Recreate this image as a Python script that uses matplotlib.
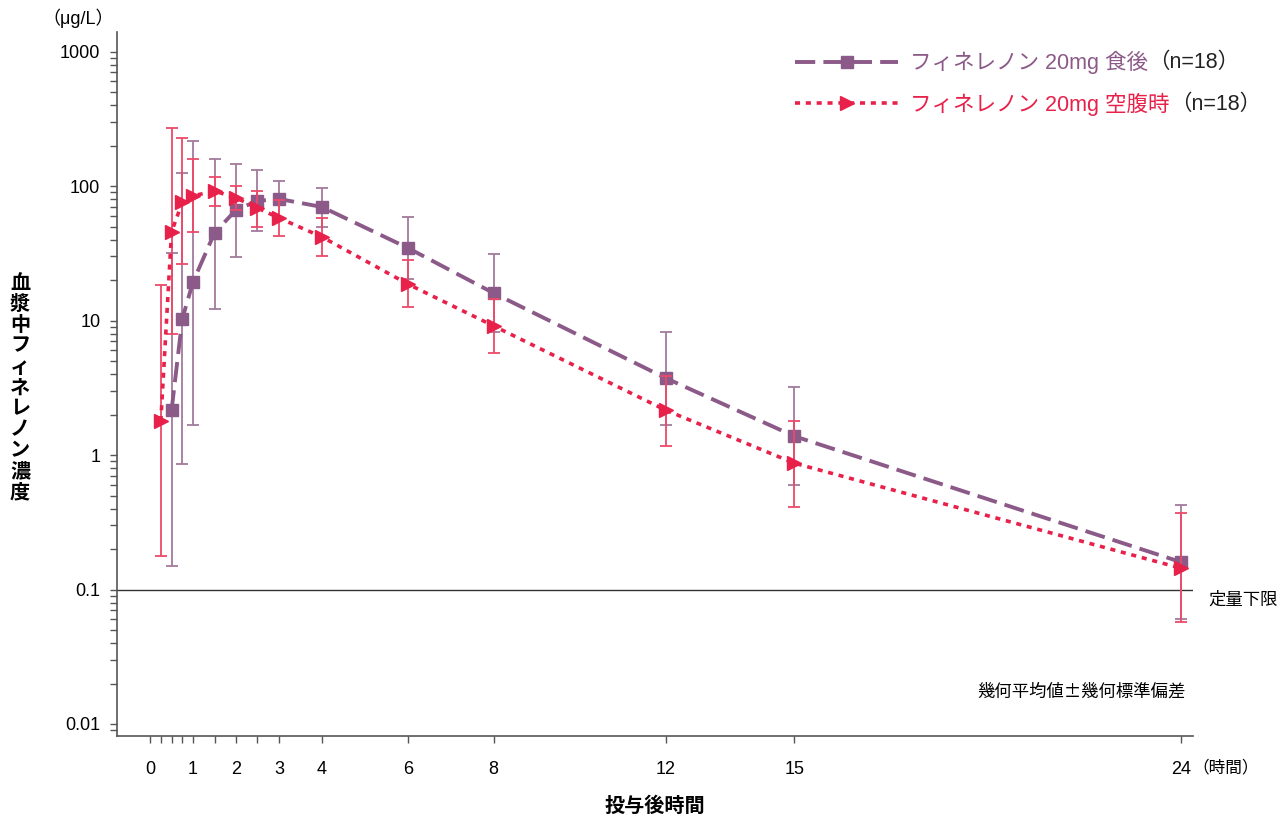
import matplotlib
matplotlib.use('Agg')
import matplotlib.pyplot as plt
import matplotlib.ticker as mticker
import numpy as np

plt.rcParams['font.family'] = ['Liberation Sans', 'Noto Sans CJK JP']

# 食後投与（幾何平均値と±幾何標準偏差の上下端）
t_fed = [0.5, 0.75, 1, 1.5, 2, 2.5, 3, 4, 6, 8, 12, 15, 24]
fed_mean = [2.15, 10.3, 19.4, 44.9, 66.5, 77.6, 80.3, 70.0, 34.7, 16.0, 3.74, 1.38, 0.160]
fed_upper = [31.8, 125, 215, 159, 146, 132, 110, 96, 59, 31.3, 8.2, 3.21, 0.425]
fed_lower = [0.149, 0.857, 1.67, 12.2, 29.7, 46.4, 58, 49.7, 20.4, 8.2, 1.67, 0.598, 0.060]

# 空腹時投与
t_fast = [0.25, 0.5, 0.75, 1, 1.5, 2, 2.5, 3, 4, 6, 8, 12, 15, 24]
fast_mean = [1.79, 45.6, 76.0, 84.6, 92.0, 81.7, 68.8, 58.0, 41.9, 18.7, 9.12, 2.16, 0.87, 0.144]
fast_upper = [18.4, 271, 228, 159, 117, 100, 92, 79, 58, 28.3, 14.5, 3.87, 1.79, 0.37]
fast_lower = [0.177, 7.9, 26.4, 45.6, 71.2, 66, 49.7, 42.6, 30.3, 12.6, 5.74, 1.17, 0.41, 0.057]

labels = ['フィネレノン 20mg 食後', 'フィネレノン 20mg 空腹時']
n_label = '（n=18）'

x_ticks = [0, 0.25, 0.5, 0.75, 1, 1.5, 2, 2.5, 3, 4, 6, 8, 12, 15, 24]
x_labels = ['0', '', '', '', '1', '', '2', '', '3', '4', '6', '8', '12', '15', '24']
lloq = 0.1

PURPLE = '#8c5a88'
RED = '#e8214b'
GREY = '#555555'
CJK = ['Noto Sans CJK JP', 'DejaVu Sans']

fig = plt.figure(figsize=(12.78, 8.16), dpi=100)
ax = fig.add_axes([117 / 1278, 80 / 816, (1193 - 117) / 1278, (736 - 32) / 816])
ax.set_yscale('log')
ax.set_xlim(-0.77, 24.28)
ax.set_ylim(0.00814, 1400)

def yerr(mean, lo, hi):
    mean, lo, hi = map(np.asarray, (mean, lo, hi))
    return [mean - lo, hi - mean]

fed = ax.errorbar(t_fed, fed_mean, yerr=yerr(fed_mean, fed_lower, fed_upper),
                  color=PURPLE, ecolor='#a27a9c', elinewidth=1.3, capsize=4.5, capthick=1.3,
                  lw=2.8, ls='--', dashes=(5.2, 2.1), dash_capstyle='butt',
                  marker='s', ms=9, zorder=3)
fast = ax.errorbar(t_fast, fast_mean, yerr=yerr(fast_mean, fast_lower, fast_upper),
                   color=RED, ecolor='#ec4a68', elinewidth=1.3, capsize=4.5, capthick=1.3,
                   lw=2.6, ls=':', dashes=(1.4, 1.6), dash_capstyle='butt',
                   marker='>', ms=10.5, zorder=4)

# 定量下限
ax.axhline(lloq, color='#333333', lw=1.0, zorder=1)
ax.annotate('定量下限', xy=(1, lloq), xycoords=('axes fraction', 'data'),
            xytext=(11, -7), textcoords='offset points', ha='left', va='center',
            fontsize=12.5, family=CJK)

ax.text(0.9935, 0.0625, '幾何平均値±幾何標準偏差', transform=ax.transAxes,
        ha='right', va='center', fontsize=12.5, family=CJK)

# 軸の体裁
for s in ['top', 'right']:
    ax.spines[s].set_visible(False)
for s in ['left', 'bottom']:
    ax.spines[s].set_color(GREY)
    ax.spines[s].set_linewidth(1.2)

ax.set_xticks(x_ticks)
ax.set_xticklabels(x_labels)
ax.tick_params(axis='x', direction='out', length=5, width=1, color=GREY, pad=13, labelsize=13)
ax.yaxis.set_major_locator(mticker.FixedLocator([0.01, 0.1, 1, 10, 100, 1000]))
ax.yaxis.set_major_formatter(mticker.FixedFormatter(['0.01', '0.1', '1', '10', '100', '1000']))
ax.yaxis.set_minor_locator(mticker.LogLocator(base=10, subs=np.arange(2, 10)))
ax.yaxis.set_minor_formatter(mticker.NullFormatter())
ax.tick_params(axis='y', which='both', direction='out', length=5, width=1, color=GREY,
               pad=7, labelsize=13)

ax.annotate('（時間）', xy=(24, 0), xycoords=('data', 'axes fraction'),
            xytext=(8, -22.5), textcoords='offset points', ha='left', va='center', fontsize=12)

fig.text(78 / 1278, 1 - 18 / 816, '（μg/L）', ha='center', va='center', fontsize=13)
fig.text(20 / 1278, 1 - 388 / 816, '\n'.join('血漿中フィネレノン濃度'),
         ha='center', va='center', fontsize=14.5, fontweight='bold', linespacing=1.13)
fig.text(655 / 1278, 1 - 806 / 816, '投与後時間', ha='center', va='center',
         fontsize=14.5, fontweight='bold')

# 凡例（n数は黒字で後ろに付ける）
leg = ax.legend([fed[0], fast[0]], labels, loc='upper left',
                bbox_to_anchor=(795 / 1278, 1 - 51 / 816), bbox_transform=fig.transFigure,
                frameon=False, numpoints=1, handlelength=4.8, handletextpad=0.55,
                labelspacing=0.86, borderpad=0, borderaxespad=0, fontsize=15.5)
for txt, c in zip(leg.get_texts(), [PURPLE, RED]):
    txt.set_color(c)

fig.canvas.draw()
inv = fig.transFigure.inverted()
for txt in leg.get_texts():
    bb = txt.get_window_extent()
    x, y = inv.transform((bb.x1, (bb.y0 + bb.y1) / 2))
    fig.text(x, y, n_label, ha='left', va='center', fontsize=15.5, color='#222222')

fig.savefig('out.png', dpi=100)
